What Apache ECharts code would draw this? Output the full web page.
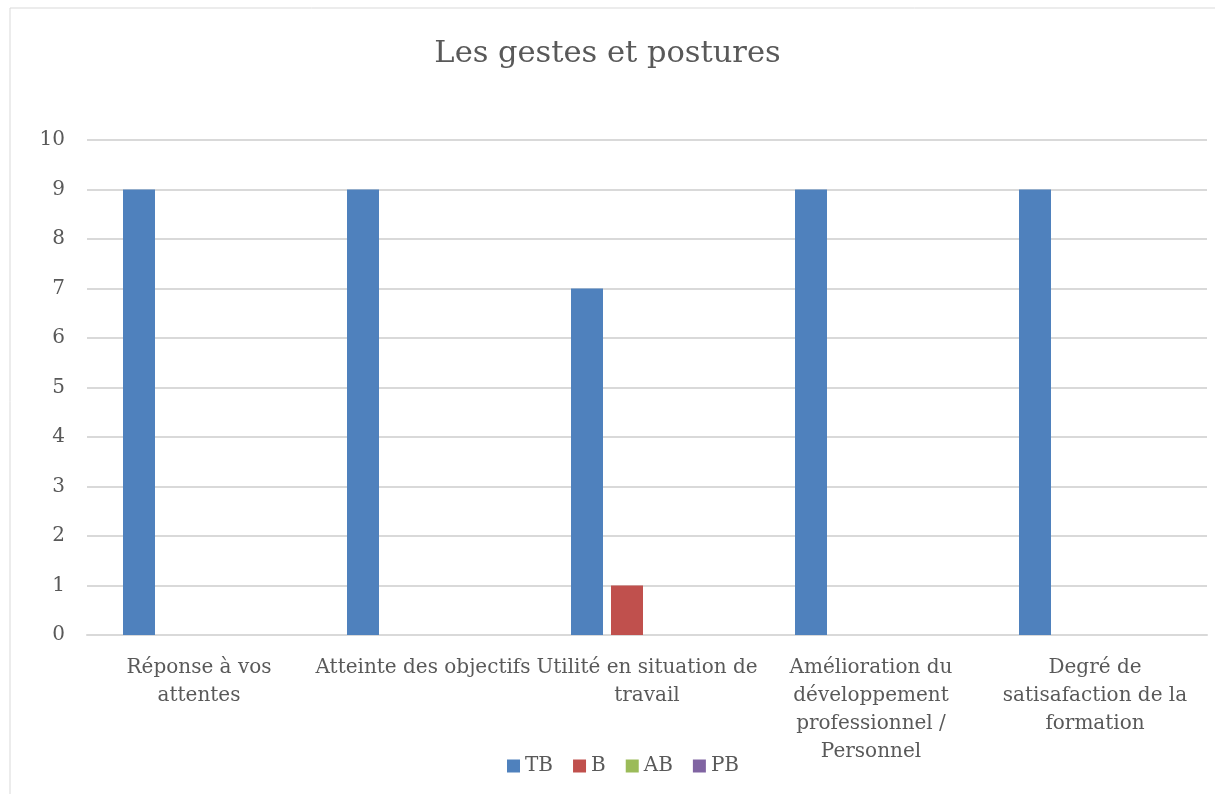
<!DOCTYPE html>
<html>
<head>
<meta charset="utf-8">
<script src="https://cdn.jsdelivr.net/npm/echarts@6/dist/echarts.min.js"></script>
<style>
  html, body { margin: 0; padding: 0; background: #fff; }
  #chart { width: 1215px; height: 794px; }
</style>
</head>
<body>
<div id="chart"></div>
<script>
// données du graphique
var categories = [
  'Réponse à vos\nattentes',
  'Atteinte des objectifs',
  'Utilité en situation de\ntravail',
  'Amélioration du\ndéveloppement\nprofessionnel /\nPersonnel',
  'Degré de\nsatisafaction de la\nformation'
];
var seriesNames = ['TB', 'B', 'AB', 'PB'];
var tbValues = [9, 9, 7, 9, 9];
var bValues = [0, 0, 1, 0, 0];
var abValues = [0, 0, 0, 0, 0];
var pbValues = [0, 0, 0, 0, 0];
var colors = ['#4F81BD', '#C0504D', '#9BBB59', '#8064A2'];

var font = '"DejaVu Serif", "Liberation Serif", serif';
var textColor = '#595959';

var allValues = [tbValues, bValues, abValues, pbValues];
var series = seriesNames.map(function(name, i) {
  return {
    name: name,
    type: 'bar',
    data: allValues[i],
    barWidth: 32,
    barGap: '25%',
    itemStyle: { color: colors[i] }
  };
});

var myChart = echarts.init(document.getElementById('chart'));
myChart.setOption({
  animation: false,
  color: colors,
  title: {
    text: 'Les gestes et postures',
    left: 'center',
    top: 34,
    textStyle: { fontFamily: font, fontSize: 30.5, fontWeight: 'normal', color: textColor }
  },
  legend: {
    data: seriesNames,
    left: 502,
    top: 751,
    itemWidth: 13,
    itemHeight: 13,
    itemGap: 20,
    icon: 'rect',
    textStyle: { fontFamily: font, fontSize: 20, color: textColor }
  },
  grid: { left: 87, right: 8, top: 140, bottom: 159 },
  xAxis: {
    type: 'category',
    data: categories,
    axisLine: { lineStyle: { color: '#d9d9d9', width: 2 } },
    axisTick: { show: false },
    axisLabel: {
      interval: 0,
      margin: 19,
      fontFamily: font,
      fontSize: 20,
      lineHeight: 28,
      color: textColor
    }
  },
  yAxis: {
    type: 'value',
    min: 0,
    max: 10,
    interval: 1,
    axisLine: { show: false },
    axisTick: { show: false },
    splitLine: { lineStyle: { color: '#d9d9d9', width: 2 } },
    axisLabel: { margin: 22, fontFamily: font, fontSize: 20, color: textColor }
  },
  graphic: [{
    type: 'rect',
    shape: { x: 10, y: 8, width: 1230, height: 820 },
    style: { fill: 'none', stroke: '#d9d9d9', lineWidth: 1 },
    silent: true
  }],
  series: series
});
</script>
</body>
</html>
